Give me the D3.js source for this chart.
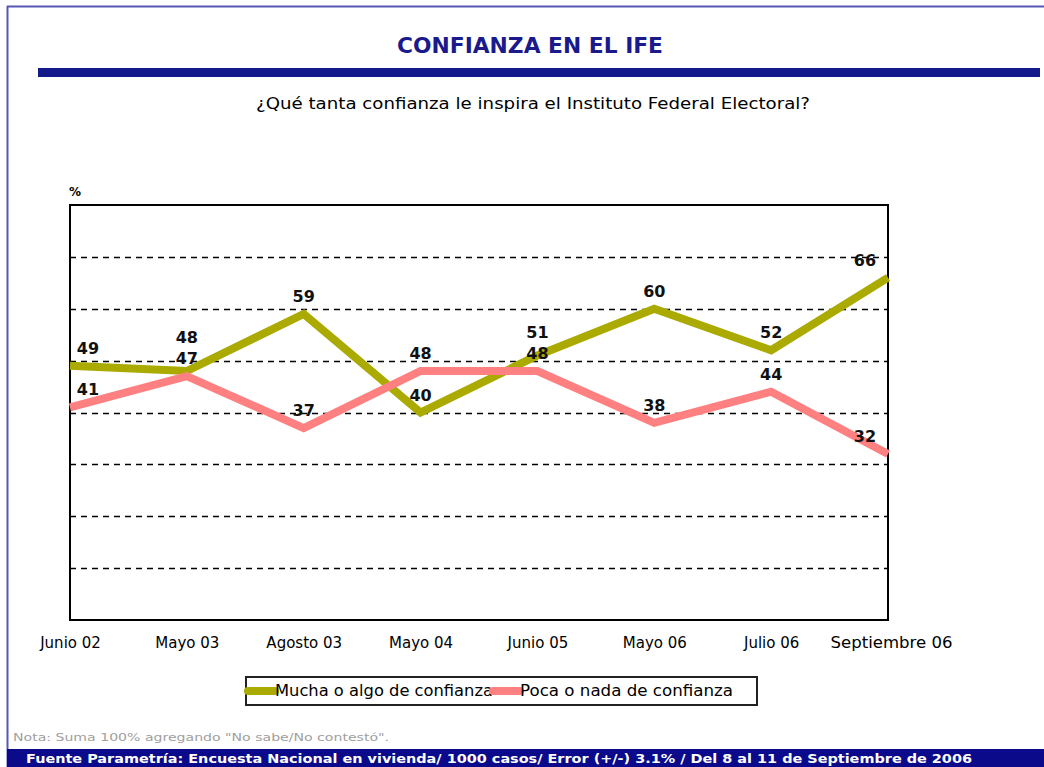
<!DOCTYPE html>
<html>
<head>
<meta charset="utf-8">
<script src="https://cdn.jsdelivr.net/npm/d3@7"></script>
<style>
  body { margin: 0; background: #fff; }
  svg { display: block; font-family: Tahoma, "DejaVu Sans", sans-serif; }
</style>
</head>
<body>
<script>
let periods = ["Junio 02", "Mayo 03", "Agosto 03", "Mayo 04", "Junio 05", "Mayo 06", "Julio 06", "Septiembre 06"];
let mucha = [49, 48, 59, 40, 51, 60, 52, 66];
let poca = [41, 47, 37, 48, 48, 38, 44, 32];
let seriesNames = ["Mucha o algo de confianza", "Poca o nada de confianza"];
let colors = ["#aaaa00", "#ff8080"];
let gridTicks = [10, 20, 30, 40, 50, 60, 70];

let w = 1044, h = 767;
let pLeft = 70, pRight = 888, pTop = 205, pBottom = 620;

let svg = d3.select("body").append("svg")
  .attr("width", w)
  .attr("height", h);

// page frame
svg.append("line").attr("x1", 7).attr("x2", w).attr("y1", 6.5).attr("y2", 6.5)
  .attr("stroke", "#5656b4").attr("stroke-width", 2);
svg.append("line").attr("x1", 7.5).attr("x2", 7.5).attr("y1", 6).attr("y2", h)
  .attr("stroke", "#5656b4").attr("stroke-width", 2);

svg.append("text")
  .attr("x", 530).attr("y", 53)
  .attr("text-anchor", "middle")
  .style("font-size", "21px").style("font-weight", "bold")
  .attr("fill", "#1a1a8c")
  .attr("textLength", 266)
  .attr("lengthAdjust", "spacingAndGlyphs")
  .text("CONFIANZA EN EL IFE");

svg.append("rect")
  .attr("x", 38).attr("y", 68).attr("width", 1002).attr("height", 9)
  .attr("fill", "#141a8a");

svg.append("text")
  .attr("x", 533).attr("y", 109)
  .attr("text-anchor", "middle")
  .style("font-size", "15px")
  .attr("textLength", 554)
  .attr("lengthAdjust", "spacingAndGlyphs")
  .text("¿Qué tanta confianza le inspira el Instituto Federal Electoral?");

svg.append("text")
  .attr("x", 69).attr("y", 196)
  .style("font-size", "12px").style("font-weight", "bold")
  .text("%");

let x = d3.scalePoint().domain(periods).range([pLeft, pRight]);
let y = d3.scaleLinear().domain([0, 80]).range([pBottom, pTop]);

// dashed gridlines
svg.append("g")
  .selectAll("line")
  .data(gridTicks)
  .enter().append("line")
  .attr("x1", pLeft).attr("x2", pRight)
  .attr("y1", d => Math.round(y(d)) + 0.5)
  .attr("y2", d => Math.round(y(d)) + 0.5)
  .attr("stroke", "#000")
  .attr("stroke-width", 1.5)
  .attr("stroke-dasharray", "6,5");

svg.append("rect")
  .attr("x", pLeft).attr("y", pTop)
  .attr("width", pRight - pLeft).attr("height", pBottom - pTop)
  .attr("fill", "none").attr("stroke", "#000").attr("stroke-width", 2);

// x axis labels
let xAxis = d3.axisBottom(x).tickSize(0).tickPadding(17);
let gx = svg.append("g")
  .attr("transform", "translate(0," + pBottom + ")")
  .call(xAxis);
gx.select(".domain").remove();
gx.selectAll("text")
  .style("font-size", "15px")
  .style("font-family", "Tahoma, 'DejaVu Sans', sans-serif")
  .attr("fill", "#000")
  .attr("textLength", (d, i) => i == periods.length - 1 ? 122 : null)
  .attr("lengthAdjust", "spacingAndGlyphs")
  .attr("dx", (d, i) => i == periods.length - 1 ? "3" : "0");

let line = d3.line()
  .x((d, i) => x(periods[i]))
  .y(d => y(d));

[mucha, poca].forEach((s, k) => {
  svg.append("path")
    .datum(s)
    .attr("d", line)
    .attr("fill", "none")
    .attr("stroke", colors[k])
    .attr("stroke-width", 8)
    .attr("stroke-linejoin", "miter");
});

// value labels, upper one pushed up when the two are too close
function labelY(k, i) {
  let a = y(mucha[i]) - 12, b = y(poca[i]) - 12;
  if (Math.abs(a - b) < 20) {
    if (a <= b) a = b - 21; else b = a - 21;
  }
  return k == 0 ? a : b;
}

[mucha, poca].forEach((s, k) => {
  svg.append("g")
    .selectAll("text")
    .data(s)
    .enter().append("text")
    .attr("x", (d, i) => Math.max(pLeft + 18, Math.min(pRight - 23, x(periods[i]))))
    .attr("y", (d, i) => labelY(k, i))
    .attr("text-anchor", "middle")
    .style("font-size", "16px").style("font-weight", "bold")
    .style("font-family", "Verdana, 'DejaVu Sans', sans-serif")
    .attr("fill", "#111")
    .text(d => d);
});

// legend
let lg = svg.append("g");
lg.append("rect")
  .attr("x", 246).attr("y", 677).attr("width", 511).attr("height", 28)
  .attr("fill", "#fff").attr("stroke", "#222").attr("stroke-width", 2);
let lx = [248, 493];
seriesNames.forEach((n, i) => {
  lg.append("line")
    .attr("x1", lx[i]).attr("x2", lx[i] + 27)
    .attr("y1", 691).attr("y2", 691)
    .attr("stroke", colors[i]).attr("stroke-width", 8).attr("stroke-linecap", "round");
  lg.append("text")
    .attr("x", lx[i] + 27).attr("y", 696)
    .style("font-size", "15px")
    .attr("textLength", i == 0 ? 218 : 213)
    .attr("lengthAdjust", "spacingAndGlyphs")
    .text(n);
});

svg.append("text")
  .attr("x", 13).attr("y", 741)
  .style("font-size", "11px")
  .attr("fill", "#a0a0a0")
  .attr("textLength", 376)
  .attr("lengthAdjust", "spacingAndGlyphs")
  .text("Nota: Suma 100% agregando  \"No sabe/No contestó\".");

svg.append("rect")
  .attr("x", 7).attr("y", 749).attr("width", w - 7).attr("height", 18)
  .attr("fill", "#0a0a8a");
svg.append("text")
  .attr("x", 26).attr("y", 763)
  .style("font-size", "13px").style("font-weight", "bold")
  .style("font-family", "Verdana, 'DejaVu Sans', sans-serif")
  .attr("fill", "#fff")
  .attr("textLength", 946)
  .attr("lengthAdjust", "spacingAndGlyphs")
  .text("Fuente Parametría: Encuesta Nacional en vivienda/ 1000 casos/ Error (+/-) 3.1% / Del 8 al 11 de Septiembre de 2006");
</script>
</body>
</html>
